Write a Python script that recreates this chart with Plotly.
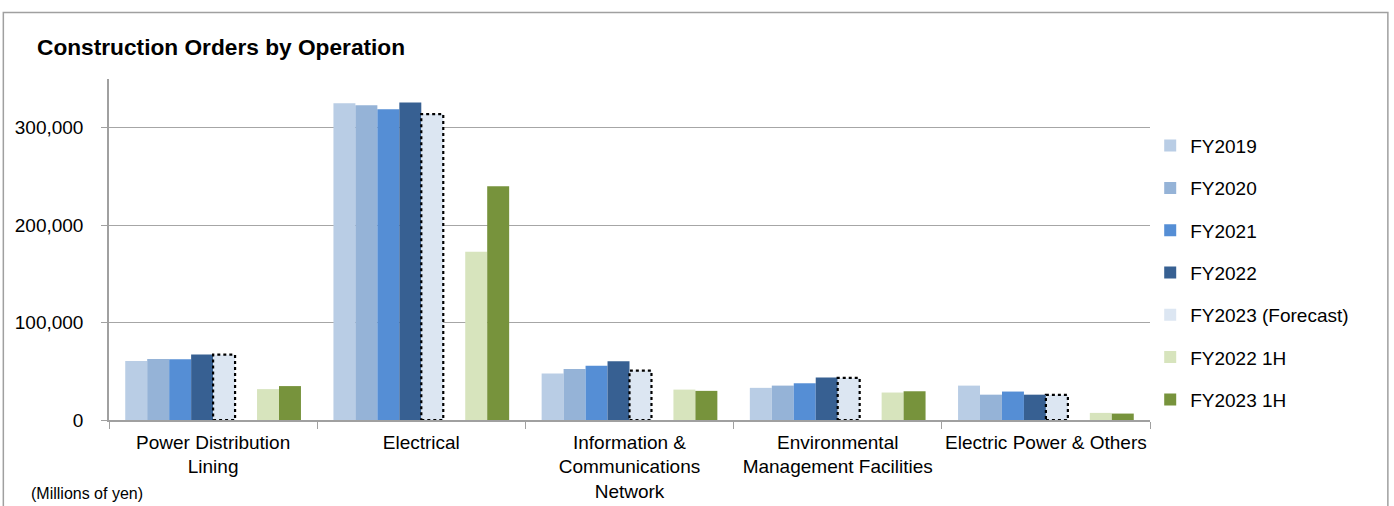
import plotly.graph_objects as go

categories = [
    "Power Distribution<br>Lining",
    "Electrical",
    "Information &<br>Communications<br>Network",
    "Environmental<br>Management Facilities",
    "Electric Power & Others",
]
fy2019 = [60500, 325000, 47600, 33000, 35300]
fy2020 = [62500, 323000, 52400, 35300, 26000]
fy2021 = [62300, 319000, 55800, 37700, 29200]
fy2022 = [67300, 326000, 60200, 43500, 26000]
fy2023_forecast = [67000, 314000, 50700, 43200, 25700]
fy2022_1h = [31700, 172600, 31200, 28200, 7300]
fy2023_1h = [34800, 240000, 29900, 29500, 6600]

series = [
    ("FY2019", fy2019, "#B9CDE5"),
    ("FY2020", fy2020, "#95B3D7"),
    ("FY2021", fy2021, "#558ED5"),
    ("FY2022", fy2022, "#376092"),
    ("FY2023 (Forecast)", fy2023_forecast, "#DCE6F2"),
    (None, [0] * len(categories), "rgba(0,0,0,0)"),
    ("FY2022 1H", fy2022_1h, "#D7E4BD"),
    ("FY2023 1H", fy2023_1h, "#77933C"),
]

BARGAP = 0.156
n_slots = len(series)

fig = go.Figure()
for i, (name, vals, color) in enumerate(series):
    if name is None:
        fig.add_trace(go.Bar(x=categories, y=vals, showlegend=False, hoverinfo="skip",
                             marker=dict(color=color, line=dict(width=0))))
    else:
        fig.add_trace(go.Bar(x=categories, y=vals, name=name, legendgroup=name,
                             marker=dict(color=color, line=dict(width=0))))

# dotted outline around forecast bars (slot index 4)
slot_w = (1 - BARGAP) / n_slots
k = 4
for ci, v in enumerate(fy2023_forecast):
    left = ci - (1 - BARGAP) / 2 + k * slot_w
    fig.add_shape(type="rect", xref="x", yref="y", x0=left, x1=left + slot_w, y0=0, y1=v,
                  line=dict(color="black", width=2.2, dash="dot"), fillcolor="rgba(0,0,0,0)",
                  layer="above")

# outer border
fig.add_shape(type="rect", xref="paper", yref="paper", x0=-0.1015, x1=1.2285, y0=-0.3, y1=1.1947,
              line=dict(color="#A0A0A0", width=1.5), fillcolor="rgba(0,0,0,0)", layer="below")

fig.add_annotation(text="<b>Construction Orders by Operation</b>", xref="paper", yref="paper",
                   x=-0.0714, y=1.0937, xanchor="left", yanchor="middle", showarrow=False,
                   font=dict(size=22.7, color="black"))
fig.add_annotation(text="(Millions of yen)", xref="paper", yref="paper",
                   x=-0.0765, y=-0.2155, xanchor="left", yanchor="middle", showarrow=False,
                   font=dict(size=16, color="black"))

fig.update_layout(
    width=1394, height=506,
    margin=dict(l=108.7, r=243.5, t=79, b=85.5, autoexpand=False),
    paper_bgcolor="white", plot_bgcolor="white",
    barmode="group", bargap=BARGAP, bargroupgap=0,
    font=dict(family="Liberation Sans, Arial, sans-serif", size=19, color="black"),
    showlegend=True,
    legend=dict(x=1.0002, y=0.86, xanchor="left", yanchor="top", tracegroupgap=14.6,
                font=dict(size=19), bgcolor="rgba(0,0,0,0)", maxheight=1.0),
)
fig.update_xaxes(showline=True, linecolor="#A0A0A0", linewidth=1.5, ticks="outside",
                 tickson="boundaries", ticklen=7, tickcolor="#A0A0A0", showgrid=False,
                 tickfont=dict(size=19), tickangle=0, automargin=False, ticklabelstandoff=4)
fig.update_yaxes(range=[0, 350000], dtick=100000, tickformat=",d", showline=True,
                 linecolor="#A0A0A0", linewidth=1.5, ticks="outside", ticklen=6,
                 tickcolor="#A0A0A0", showgrid=True, gridcolor="#A6A6A6", gridwidth=1,
                 zeroline=False, ticklabelstandoff=14, tickfont=dict(size=19), automargin=False)

fig.write_html(
    "out.html",
    config={"displayModeBar": False},
    post_script="document.body.style.margin='0';document.body.style.overflow='hidden';",
)
